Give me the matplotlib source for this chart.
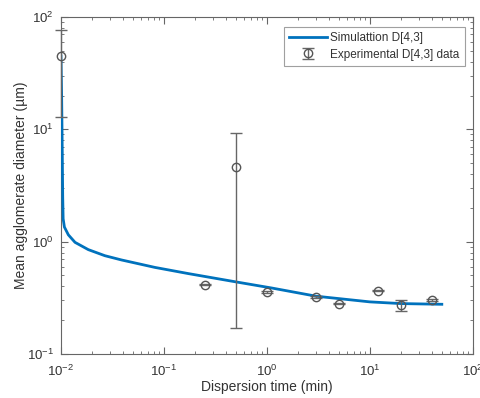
import matplotlib
matplotlib.use("Agg")
import matplotlib.pyplot as plt
import numpy as np
from matplotlib.ticker import LogLocator, NullFormatter

plt.rcParams['font.family'] = ['Liberation Sans', 'DejaVu Sans']
plt.rcParams['mathtext.default'] = 'regular'

# Simulation curve
sim_t = [0.0100, 0.01015, 0.0103, 0.0104, 0.0105, 0.0108, 0.0118, 0.0137, 0.0184,
         0.0267, 0.0388, 0.0817, 0.172, 0.489, 1.11, 3.0, 10.0, 20.0, 50.0]
sim_d = [45.0, 20.0, 6.0, 2.5, 1.6, 1.35, 1.15, 0.986, 0.85,
         0.75, 0.687, 0.59, 0.52, 0.44, 0.387, 0.327, 0.291, 0.281, 0.277]

# Experimental data
exp_t = [0.01, 0.25, 0.5, 1.0, 3.0, 5.0, 12.0, 20.0, 40.0]
exp_d = [45.0, 0.415, 4.6, 0.357, 0.322, 0.281, 0.366, 0.272, 0.303]
exp_err_lo = [32.0, 0.005, 4.43, 0.005, 0.005, 0.005, 0.005, 0.03, 0.005]
exp_err_hi = [32.0, 0.005, 4.65, 0.005, 0.005, 0.005, 0.005, 0.03, 0.005]

fig = plt.figure(figsize=(4.8, 3.98), dpi=100)
ax = fig.add_axes([0.127, 0.1106, 0.858, 0.8466])

ax.plot(sim_t, sim_d, color='#0072BD', lw=2, label='Simulattion D[4,3]', zorder=3)
eb = ax.errorbar(exp_t, exp_d, yerr=[exp_err_lo, exp_err_hi], fmt='o', mfc='none',
                 mec='#555555', ecolor='#666666', color='#555555', ms=6, mew=1,
                 elinewidth=1, capsize=4, capthick=1,
                 label='Experimental D[4,3] data', zorder=4)
for art in eb.lines[1] + eb.lines[2]:
    art.set_clip_on(False)
eb.lines[0].set_clip_on(False)

ax.set_xscale('log')
ax.set_yscale('log')
ax.set_xlim(1e-2, 1e2)
ax.set_ylim(1e-1, 1e2)
ax.xaxis.set_major_locator(LogLocator(base=10, numticks=10))
ax.yaxis.set_major_locator(LogLocator(base=10, numticks=10))
ax.xaxis.set_minor_locator(LogLocator(base=10, subs=np.arange(2, 10), numticks=20))
ax.yaxis.set_minor_locator(LogLocator(base=10, subs=np.arange(2, 10), numticks=20))
ax.xaxis.set_minor_formatter(NullFormatter())
ax.yaxis.set_minor_formatter(NullFormatter())

for sp in ax.spines.values():
    sp.set_color('#666666')
    sp.set_linewidth(0.8)
ax.tick_params(which='both', direction='in', top=True, right=True, colors='#666666',
               labelcolor='#333333', labelsize=9.5)
ax.tick_params(which='major', length=5)
ax.tick_params(which='minor', length=2.5)
ax.tick_params(axis='x', which='major', pad=7)
ax.tick_params(axis='y', which='major', pad=5)

ax.set_xlabel('Dispersion time (min)', fontsize=10, color='#333333', labelpad=1)
ax.set_ylabel('Mean agglomerate diameter (µm)', fontsize=10, color='#333333', labelpad=-1)

leg = ax.legend(loc='upper right', fontsize=8.5, frameon=True, fancybox=False,
                edgecolor='#888888', handlelength=3.2, borderpad=0.45,
                labelspacing=0.35, borderaxespad=0, handletextpad=0.3,
                bbox_to_anchor=(0.9806, 0.970))
leg.get_frame().set_linewidth(0.8)
for t in leg.get_texts():
    t.set_color('#333333')

fig.savefig('out.png', dpi=100)
